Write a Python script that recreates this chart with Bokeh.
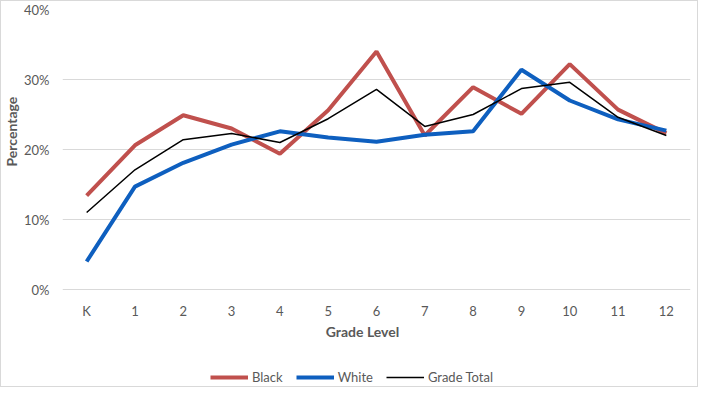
from bokeh.plotting import figure
from bokeh.models import (ColumnDataSource, Legend, LegendItem, PrintfTickFormatter,
                          FixedTicker, Label, Range1d, Title)
from bokeh.embed import file_html
from bokeh.resources import INLINE

grades = ["K", "1", "2", "3", "4", "5", "6", "7", "8", "9", "10", "11", "12"]
black = [13.4, 20.6, 24.9, 23.0, 19.4, 25.6, 34.0, 22.0, 28.9, 25.1, 32.2, 25.7, 22.3]
white = [4.0, 14.7, 18.1, 20.7, 22.6, 21.7, 21.1, 22.1, 22.6, 31.4, 27.0, 24.3, 22.7]
total = [11.0, 17.1, 21.4, 22.3, 21.0, 24.4, 28.6, 23.3, 25.0, 28.7, 29.6, 24.6, 22.0]
y_ticks = [0, 10, 20, 30, 40]

FONT = "Lato"
GREY = "#595959"

src = ColumnDataSource(dict(g=grades, black=black, white=white, total=total))

# frame extends below the 0% line so the axis title and legend can live inside it
p = figure(x_range=grades, y_range=Range1d(-14.14, 40), width=698, height=387,
           output_backend="svg", toolbar_location=None,
           min_border_left=59, min_border_right=9, min_border_top=8, min_border_bottom=0)
p.outline_line_color = None
p.background_fill_color = "white"
p.border_fill_color = "white"

r_b = p.line("g", "black", source=src, line_color="#C0504D", line_width=4)
r_w = p.line("g", "white", source=src, line_color="#0E5FBF", line_width=4)
r_t = p.line("g", "total", source=src, line_color="black", line_width=1.5)

p.xgrid.grid_line_color = None
p.ygrid.grid_line_color = "#D9D9D9"
p.ygrid.grid_line_width = 1
p.ygrid.ticker = FixedTicker(ticks=y_ticks)

p.yaxis.ticker = FixedTicker(ticks=y_ticks)
p.yaxis.formatter = PrintfTickFormatter(format="%d%%")
p.xaxis.fixed_location = 0
for ax in (p.xaxis, p.yaxis):
    ax.axis_line_color = None
    ax.major_tick_line_color = None
    ax.minor_tick_line_color = None
    ax.major_tick_out = 0
    ax.major_tick_in = 0
    ax.minor_tick_out = 0
    ax.major_label_text_font = FONT
    ax.major_label_text_font_size = "13px"
    ax.major_label_text_color = GREY
p.yaxis.major_label_standoff = 13
p.xaxis.major_label_standoff = 13

p.add_layout(Label(x=6.21, y=-6.0, text="Grade Level",
                   text_align="center", text_baseline="middle", text_font=FONT,
                   text_font_size="14px", text_font_style="bold", text_color=GREY))

p.add_layout(Title(text="Percentage", align="left", offset=222, vertical_align="middle",
                   standoff=1, text_font=FONT, text_font_size="14px",
                   text_font_style="bold", text_color=GREY), "left")

legend = Legend(items=[LegendItem(label="Black", renderers=[r_b]),
                       LegendItem(label="White", renderers=[r_w]),
                       LegendItem(label="Grade Total", renderers=[r_t])],
                orientation="horizontal", location=(148, 1),
                glyph_width=38, glyph_height=20, label_height=20, label_standoff=4,
                spacing=13, padding=0, margin=0,
                label_text_font=FONT, label_text_font_size="13px", label_text_color=GREY,
                border_line_color=None, background_fill_alpha=0)
p.add_layout(legend, "center")

p.styles = {"border": "1px solid #D9D9D9", "box-sizing": "border-box"}

open("out.html", "w").write(file_html(p, INLINE))
